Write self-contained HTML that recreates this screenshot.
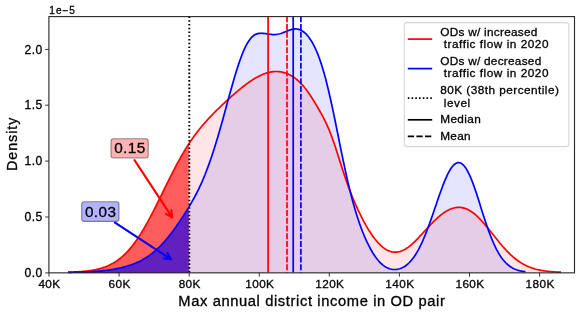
<!DOCTYPE html>
<html><head><meta charset="utf-8"><title>Density of max annual district income in OD pair</title>
<style>
html,body{margin:0;padding:0;background:#fff;}
body{width:581px;height:315px;overflow:hidden;}
svg{display:block;will-change:transform;}
text{font-family:"Liberation Sans",sans-serif;fill:#000;stroke:#000;stroke-width:0.3px;}
</style></head><body>
<svg width="581" height="315" viewBox="0 0 581 315">
<rect x="0" y="0" width="581" height="315" fill="#ffffff"/>
<path d="M68.0,272.19 L69.0,272.16 L70.0,272.13 L71.0,272.10 L72.0,272.06 L73.0,272.02 L74.0,271.98 L75.0,271.94 L76.0,271.89 L77.0,271.84 L78.0,271.78 L79.0,271.72 L80.0,271.65 L81.0,271.58 L82.0,271.50 L83.0,271.42 L84.0,271.33 L85.0,271.23 L86.0,271.13 L87.0,271.02 L88.0,270.90 L89.0,270.77 L90.0,270.63 L91.0,270.48 L92.0,270.32 L93.0,270.15 L94.0,269.97 L95.0,269.77 L96.0,269.57 L97.0,269.34 L98.0,269.11 L99.0,268.86 L100.0,268.59 L101.0,268.30 L102.0,268.00 L103.0,267.68 L104.0,267.34 L105.0,266.98 L106.0,266.59 L107.0,266.19 L108.0,265.76 L109.0,265.31 L110.0,264.83 L111.0,264.33 L112.0,263.79 L113.0,263.24 L114.0,262.65 L115.0,262.03 L116.0,261.38 L117.0,260.70 L118.0,259.99 L119.0,259.25 L120.0,258.47 L121.0,257.65 L122.0,256.80 L123.0,255.92 L124.0,255.00 L125.0,254.04 L126.0,253.04 L127.0,252.00 L128.0,250.93 L129.0,249.81 L130.0,248.66 L131.0,247.46 L132.0,246.23 L133.0,244.95 L134.0,243.64 L135.0,242.29 L136.0,240.90 L137.0,239.46 L138.0,237.99 L139.0,236.48 L140.0,234.94 L141.0,233.35 L142.0,231.73 L143.0,230.08 L144.0,228.39 L145.0,226.67 L146.0,224.91 L147.0,223.13 L148.0,221.32 L149.0,219.47 L150.0,217.61 L151.0,215.71 L152.0,213.80 L153.0,211.86 L154.0,209.90 L155.0,207.93 L156.0,205.94 L157.0,203.93 L158.0,201.92 L159.0,199.89 L160.0,197.86 L161.0,195.82 L162.0,193.77 L163.0,191.73 L164.0,189.69 L165.0,187.64 L166.0,185.61 L167.0,183.58 L168.0,181.55 L169.0,179.54 L170.0,177.54 L171.0,175.55 L172.0,173.58 L173.0,171.63 L174.0,169.69 L175.0,167.78 L176.0,165.88 L177.0,164.01 L178.0,162.17 L179.0,160.34 L180.0,158.54 L181.0,156.77 L182.0,155.03 L183.0,153.31 L184.0,151.63 L185.0,149.97 L186.0,148.34 L187.0,146.74 L188.0,145.17 L189.0,143.63 L190.0,142.11 L191.0,140.63 L192.0,139.17 L193.0,137.75 L194.0,136.35 L195.0,134.97 L196.0,133.63 L197.0,132.31 L198.0,131.01 L199.0,129.74 L200.0,128.49 L201.0,127.27 L202.0,126.06 L203.0,124.88 L204.0,123.71 L205.0,122.57 L206.0,121.44 L207.0,120.33 L208.0,119.24 L209.0,118.16 L210.0,117.10 L211.0,116.05 L212.0,115.01 L213.0,113.98 L214.0,112.96 L215.0,111.96 L216.0,110.96 L217.0,109.98 L218.0,109.00 L219.0,108.03 L220.0,107.06 L221.0,106.11 L222.0,105.16 L223.0,104.21 L224.0,103.28 L225.0,102.34 L226.0,101.42 L227.0,100.50 L228.0,99.59 L229.0,98.68 L230.0,97.78 L231.0,96.88 L232.0,95.99 L233.0,95.11 L234.0,94.23 L235.0,93.37 L236.0,92.51 L237.0,91.65 L238.0,90.81 L239.0,89.97 L240.0,89.15 L241.0,88.33 L242.0,87.53 L243.0,86.74 L244.0,85.96 L245.0,85.19 L246.0,84.43 L247.0,83.69 L248.0,82.96 L249.0,82.25 L250.0,81.56 L251.0,80.88 L252.0,80.21 L253.0,79.57 L254.0,78.95 L255.0,78.34 L256.0,77.76 L257.0,77.19 L258.0,76.65 L259.0,76.13 L260.0,75.63 L261.0,75.16 L262.0,74.72 L263.0,74.29 L264.0,73.90 L265.0,73.53 L266.0,73.19 L267.0,72.88 L268.0,72.60 L269.0,72.35 L270.0,72.13 L271.0,71.94 L272.0,71.79 L273.0,71.66 L274.0,71.57 L275.0,71.52 L276.0,71.50 L277.0,71.51 L278.0,71.56 L279.0,71.64 L280.0,71.76 L281.0,71.92 L282.0,72.11 L283.0,72.35 L284.0,72.62 L285.0,72.92 L286.0,73.27 L287.0,73.65 L288.0,74.07 L289.0,74.53 L290.0,75.04 L291.0,75.58 L292.0,76.16 L293.0,76.79 L294.0,77.46 L295.0,78.17 L296.0,78.94 L297.0,79.74 L298.0,80.60 L299.0,81.51 L300.0,82.46 L301.0,83.47 L302.0,84.53 L303.0,85.65 L304.0,86.82 L305.0,88.05 L306.0,89.33 L307.0,90.66 L308.0,92.05 L309.0,93.48 L310.0,94.96 L311.0,96.48 L312.0,98.04 L313.0,99.63 L314.0,101.26 L315.0,102.91 L316.0,104.58 L317.0,106.27 L318.0,107.99 L319.0,109.72 L320.0,111.48 L321.0,113.27 L322.0,115.09 L323.0,116.96 L324.0,118.88 L325.0,120.87 L326.0,122.93 L327.0,125.08 L328.0,127.33 L329.0,129.68 L330.0,132.13 L331.0,134.70 L332.0,137.38 L333.0,140.17 L334.0,143.05 L335.0,146.02 L336.0,149.06 L337.0,152.16 L338.0,155.29 L339.0,158.45 L340.0,161.62 L341.0,164.77 L342.0,167.90 L343.0,170.98 L344.0,174.02 L345.0,177.00 L346.0,179.92 L347.0,182.77 L348.0,185.54 L349.0,188.25 L350.0,190.89 L351.0,193.46 L352.0,195.97 L353.0,198.42 L354.0,200.80 L355.0,203.13 L356.0,205.40 L357.0,207.63 L358.0,209.80 L359.0,211.92 L360.0,213.99 L361.0,216.01 L362.0,217.99 L363.0,219.91 L364.0,221.79 L365.0,223.62 L366.0,225.40 L367.0,227.13 L368.0,228.81 L369.0,230.44 L370.0,232.01 L371.0,233.54 L372.0,235.00 L373.0,236.41 L374.0,237.77 L375.0,239.07 L376.0,240.31 L377.0,241.49 L378.0,242.62 L379.0,243.68 L380.0,244.69 L381.0,245.63 L382.0,246.51 L383.0,247.33 L384.0,248.09 L385.0,248.78 L386.0,249.41 L387.0,249.97 L388.0,250.47 L389.0,250.91 L390.0,251.28 L391.0,251.59 L392.0,251.83 L393.0,252.01 L394.0,252.12 L395.0,252.17 L396.0,252.15 L397.0,252.07 L398.0,251.93 L399.0,251.73 L400.0,251.47 L401.0,251.14 L402.0,250.76 L403.0,250.32 L404.0,249.83 L405.0,249.28 L406.0,248.68 L407.0,248.04 L408.0,247.34 L409.0,246.60 L410.0,245.81 L411.0,244.99 L412.0,244.13 L413.0,243.23 L414.0,242.30 L415.0,241.34 L416.0,240.35 L417.0,239.34 L418.0,238.31 L419.0,237.26 L420.0,236.19 L421.0,235.11 L422.0,234.03 L423.0,232.93 L424.0,231.84 L425.0,230.74 L426.0,229.64 L427.0,228.55 L428.0,227.46 L429.0,226.38 L430.0,225.32 L431.0,224.27 L432.0,223.23 L433.0,222.21 L434.0,221.21 L435.0,220.24 L436.0,219.29 L437.0,218.36 L438.0,217.46 L439.0,216.59 L440.0,215.75 L441.0,214.94 L442.0,214.16 L443.0,213.42 L444.0,212.72 L445.0,212.05 L446.0,211.43 L447.0,210.84 L448.0,210.29 L449.0,209.79 L450.0,209.33 L451.0,208.91 L452.0,208.55 L453.0,208.22 L454.0,207.95 L455.0,207.73 L456.0,207.55 L457.0,207.43 L458.0,207.36 L459.0,207.34 L460.0,207.38 L461.0,207.47 L462.0,207.61 L463.0,207.81 L464.0,208.06 L465.0,208.37 L466.0,208.73 L467.0,209.15 L468.0,209.62 L469.0,210.14 L470.0,210.71 L471.0,211.34 L472.0,212.02 L473.0,212.74 L474.0,213.52 L475.0,214.34 L476.0,215.20 L477.0,216.11 L478.0,217.06 L479.0,218.05 L480.0,219.07 L481.0,220.13 L482.0,221.22 L483.0,222.33 L484.0,223.48 L485.0,224.65 L486.0,225.84 L487.0,227.05 L488.0,228.27 L489.0,229.51 L490.0,230.75 L491.0,232.01 L492.0,233.26 L493.0,234.52 L494.0,235.78 L495.0,237.04 L496.0,238.29 L497.0,239.53 L498.0,240.76 L499.0,241.98 L500.0,243.19 L501.0,244.38 L502.0,245.55 L503.0,246.70 L504.0,247.82 L505.0,248.93 L506.0,250.01 L507.0,251.06 L508.0,252.09 L509.0,253.09 L510.0,254.06 L511.0,255.01 L512.0,255.92 L513.0,256.80 L514.0,257.65 L515.0,258.47 L516.0,259.26 L517.0,260.03 L518.0,260.75 L519.0,261.45 L520.0,262.12 L521.0,262.76 L522.0,263.37 L523.0,263.95 L524.0,264.51 L525.0,265.03 L526.0,265.53 L527.0,266.01 L528.0,266.45 L529.0,266.88 L530.0,267.28 L531.0,267.65 L532.0,268.01 L533.0,268.34 L534.0,268.65 L535.0,268.95 L536.0,269.22 L537.0,269.48 L538.0,269.72 L539.0,269.94 L540.0,270.15 L541.0,270.34 L542.0,270.52 L543.0,270.69 L544.0,270.84 L545.0,270.99 L546.0,271.12 L547.0,271.24 L548.0,271.35 L549.0,271.46 L550.0,271.55 L551.0,271.64 L552.0,271.72 L553.0,271.80 L554.0,271.86 L555.0,271.92 L556.0,271.98 L557.0,272.03 L558.0,272.08 L559.0,272.12 L560.0,272.16 L561.0,272.19 L561.0,272.9 L68.0,272.9 Z" fill="#ff0000" fill-opacity="0.1"/>
<path d="M68.0,272.32 L69.0,272.31 L70.0,272.29 L71.0,272.28 L72.0,272.26 L73.0,272.24 L74.0,272.22 L75.0,272.20 L76.0,272.18 L77.0,272.16 L78.0,272.13 L79.0,272.11 L80.0,272.08 L81.0,272.05 L82.0,272.02 L83.0,271.98 L84.0,271.95 L85.0,271.91 L86.0,271.87 L87.0,271.82 L88.0,271.78 L89.0,271.73 L90.0,271.68 L91.0,271.63 L92.0,271.57 L93.0,271.51 L94.0,271.45 L95.0,271.38 L96.0,271.31 L97.0,271.23 L98.0,271.15 L99.0,271.07 L100.0,270.98 L101.0,270.89 L102.0,270.80 L103.0,270.70 L104.0,270.59 L105.0,270.48 L106.0,270.36 L107.0,270.24 L108.0,270.11 L109.0,269.98 L110.0,269.83 L111.0,269.69 L112.0,269.53 L113.0,269.37 L113.9,269.20 L114.9,269.03 L115.9,268.84 L116.9,268.65 L117.9,268.45 L118.9,268.24 L119.9,268.02 L120.9,267.80 L121.9,267.56 L122.9,267.31 L123.9,267.06 L124.9,266.79 L125.9,266.51 L126.9,266.22 L127.9,265.92 L128.9,265.60 L129.9,265.28 L130.9,264.94 L131.9,264.58 L132.9,264.21 L133.9,263.83 L134.9,263.43 L135.9,263.02 L136.9,262.59 L137.9,262.14 L138.9,261.67 L139.9,261.19 L140.9,260.68 L141.9,260.16 L142.9,259.61 L143.9,259.04 L144.9,258.45 L145.9,257.84 L146.9,257.21 L147.9,256.55 L148.9,255.86 L149.9,255.15 L150.9,254.41 L151.9,253.65 L152.9,252.85 L153.9,252.03 L154.9,251.19 L155.9,250.31 L156.9,249.40 L157.9,248.47 L158.9,247.50 L159.9,246.51 L160.9,245.48 L161.9,244.43 L162.9,243.35 L163.9,242.24 L164.9,241.10 L165.9,239.94 L166.9,238.75 L167.9,237.53 L168.9,236.28 L169.9,235.02 L170.9,233.72 L171.9,232.41 L172.9,231.07 L173.9,229.71 L174.9,228.33 L175.9,226.93 L176.9,225.51 L177.9,224.07 L178.9,222.62 L179.9,221.14 L180.9,219.65 L181.9,218.14 L182.9,216.61 L183.9,215.06 L184.9,213.49 L185.9,211.90 L186.9,210.29 L187.9,208.65 L188.9,206.99 L189.9,205.31 L190.9,203.59 L191.9,201.85 L192.9,200.07 L193.9,198.25 L194.9,196.39 L195.9,194.50 L196.9,192.55 L197.9,190.56 L198.9,188.52 L199.9,186.42 L200.9,184.27 L201.9,182.05 L202.9,179.78 L203.9,177.43 L204.9,175.02 L205.8,172.53 L206.8,169.98 L207.8,167.35 L208.8,164.64 L209.8,161.86 L210.8,159.00 L211.8,156.07 L212.8,153.06 L213.8,149.98 L214.8,146.83 L215.8,143.60 L216.8,140.31 L217.8,136.96 L218.8,133.54 L219.8,130.08 L220.8,126.56 L221.8,123.00 L222.8,119.41 L223.8,115.78 L224.8,112.13 L225.8,108.47 L226.8,104.80 L227.8,101.13 L228.8,97.48 L229.8,93.84 L230.8,90.23 L231.8,86.67 L232.8,83.15 L233.8,79.69 L234.8,76.30 L235.8,72.99 L236.8,69.77 L237.8,66.64 L238.8,63.62 L239.8,60.71 L240.8,57.93 L241.8,55.28 L242.8,52.77 L243.8,50.40 L244.8,48.18 L245.8,46.12 L246.8,44.22 L247.8,42.49 L248.8,40.92 L249.8,39.51 L250.8,38.27 L251.8,37.19 L252.8,36.26 L253.8,35.47 L254.8,34.83 L255.8,34.31 L256.8,33.91 L257.8,33.61 L258.8,33.41 L259.8,33.29 L260.8,33.23 L261.8,33.24 L262.8,33.29 L263.8,33.38 L264.8,33.50 L265.8,33.64 L266.8,33.79 L267.8,33.95 L268.8,34.10 L269.8,34.24 L270.8,34.36 L271.8,34.46 L272.8,34.53 L273.8,34.56 L274.8,34.54 L275.8,34.48 L276.8,34.38 L277.8,34.22 L278.8,34.02 L279.8,33.77 L280.8,33.48 L281.8,33.15 L282.8,32.79 L283.8,32.40 L284.8,32.00 L285.8,31.58 L286.8,31.17 L287.8,30.77 L288.8,30.38 L289.8,30.03 L290.8,29.71 L291.8,29.43 L292.8,29.21 L293.8,29.05 L294.8,28.95 L295.8,28.94 L296.8,29.00 L297.7,29.14 L298.7,29.37 L299.7,29.69 L300.7,30.11 L301.7,30.62 L302.7,31.23 L303.7,31.94 L304.7,32.76 L305.7,33.68 L306.7,34.70 L307.7,35.84 L308.7,37.08 L309.7,38.44 L310.7,39.92 L311.7,41.52 L312.7,43.24 L313.7,45.10 L314.7,47.09 L315.7,49.22 L316.7,51.50 L317.7,53.92 L318.7,56.50 L319.7,59.24 L320.7,62.13 L321.7,65.20 L322.7,68.42 L323.7,71.82 L324.7,75.37 L325.7,79.09 L326.7,82.97 L327.7,87.00 L328.7,91.18 L329.7,95.50 L330.7,99.94 L331.7,104.50 L332.7,109.17 L333.7,113.92 L334.7,118.75 L335.7,123.64 L336.7,128.57 L337.7,133.53 L338.7,138.50 L339.7,143.46 L340.7,148.40 L341.7,153.30 L342.7,158.14 L343.7,162.92 L344.7,167.62 L345.7,172.22 L346.7,176.72 L347.7,181.11 L348.7,185.39 L349.7,189.54 L350.7,193.56 L351.7,197.45 L352.7,201.22 L353.7,204.85 L354.7,208.35 L355.7,211.72 L356.7,214.97 L357.7,218.09 L358.7,221.10 L359.7,223.99 L360.7,226.77 L361.7,229.45 L362.7,232.02 L363.7,234.49 L364.7,236.87 L365.7,239.15 L366.7,241.34 L367.7,243.45 L368.7,245.47 L369.7,247.40 L370.7,249.24 L371.7,251.00 L372.7,252.68 L373.7,254.27 L374.7,255.78 L375.7,257.21 L376.7,258.55 L377.7,259.81 L378.7,260.99 L379.7,262.08 L380.7,263.09 L381.7,264.02 L382.7,264.87 L383.7,265.65 L384.7,266.35 L385.7,266.97 L386.7,267.52 L387.7,268.00 L388.6,268.41 L389.6,268.76 L390.6,269.04 L391.6,269.25 L392.6,269.40 L393.6,269.49 L394.6,269.52 L395.6,269.49 L396.6,269.40 L397.6,269.25 L398.6,269.04 L399.6,268.77 L400.6,268.43 L401.6,268.03 L402.6,267.57 L403.6,267.03 L404.6,266.43 L405.6,265.75 L406.6,265.00 L407.6,264.17 L408.6,263.26 L409.6,262.27 L410.6,261.19 L411.6,260.03 L412.6,258.77 L413.6,257.43 L414.6,255.99 L415.6,254.46 L416.6,252.83 L417.6,251.11 L418.6,249.29 L419.6,247.37 L420.6,245.36 L421.6,243.26 L422.6,241.06 L423.6,238.78 L424.6,236.41 L425.6,233.96 L426.6,231.43 L427.6,228.83 L428.6,226.16 L429.6,223.42 L430.6,220.64 L431.6,217.80 L432.6,214.92 L433.6,212.02 L434.6,209.09 L435.6,206.15 L436.6,203.21 L437.6,200.29 L438.6,197.38 L439.6,194.52 L440.6,191.70 L441.6,188.94 L442.6,186.26 L443.6,183.67 L444.6,181.18 L445.6,178.80 L446.6,176.55 L447.6,174.43 L448.6,172.46 L449.6,170.65 L450.6,169.01 L451.6,167.54 L452.6,166.25 L453.6,165.15 L454.6,164.25 L455.6,163.54 L456.6,163.03 L457.6,162.72 L458.6,162.62 L459.6,162.74 L460.6,163.06 L461.6,163.59 L462.6,164.33 L463.6,165.29 L464.6,166.44 L465.6,167.81 L466.6,169.37 L467.6,171.12 L468.6,173.06 L469.6,175.17 L470.6,177.45 L471.6,179.88 L472.6,182.45 L473.6,185.15 L474.6,187.96 L475.6,190.86 L476.6,193.85 L477.6,196.90 L478.6,199.99 L479.6,203.12 L480.5,206.26 L481.5,209.41 L482.5,212.54 L483.5,215.65 L484.5,218.71 L485.5,221.73 L486.5,224.68 L487.5,227.57 L488.5,230.37 L489.5,233.09 L490.5,235.72 L491.5,238.24 L492.5,240.67 L493.5,242.99 L494.5,245.20 L495.5,247.30 L496.5,249.30 L497.5,251.18 L498.5,252.95 L499.5,254.62 L500.5,256.18 L501.5,257.64 L502.5,259.00 L503.5,260.26 L504.5,261.43 L505.5,262.51 L506.5,263.50 L507.5,264.41 L508.5,265.25 L509.5,266.02 L510.5,266.71 L511.5,267.35 L512.5,267.92 L513.5,268.44 L514.5,268.91 L515.5,269.33 L516.5,269.71 L517.5,270.05 L518.5,270.35 L519.5,270.62 L520.5,270.86 L521.5,271.07 L522.5,271.26 L523.5,271.42 L524.5,271.57 L525.5,271.70 L525.5,272.9 L68.0,272.9 Z" fill="#0000ff" fill-opacity="0.1"/>
<path d="M68.0,272.19 L68.5,272.18 L69.0,272.16 L69.5,272.15 L70.0,272.13 L70.5,272.11 L71.0,272.10 L71.5,272.08 L72.0,272.06 L72.5,272.04 L73.0,272.02 L73.5,272.00 L74.0,271.98 L74.5,271.96 L75.0,271.94 L75.5,271.91 L76.0,271.89 L76.5,271.86 L77.0,271.84 L77.5,271.81 L78.0,271.78 L78.5,271.75 L79.0,271.72 L79.5,271.68 L80.0,271.65 L80.5,271.61 L81.0,271.58 L81.5,271.54 L82.0,271.50 L82.5,271.46 L83.0,271.42 L83.5,271.37 L84.0,271.33 L84.5,271.28 L85.0,271.23 L85.5,271.18 L86.0,271.12 L86.5,271.07 L87.0,271.01 L87.5,270.95 L88.0,270.89 L88.5,270.83 L89.0,270.76 L89.5,270.69 L90.0,270.62 L90.5,270.55 L91.0,270.47 L91.5,270.39 L92.0,270.31 L92.5,270.23 L93.0,270.14 L93.5,270.05 L94.0,269.96 L94.5,269.86 L95.0,269.76 L95.5,269.66 L96.0,269.56 L96.5,269.45 L97.0,269.33 L97.5,269.22 L98.0,269.10 L98.6,268.97 L99.1,268.84 L99.6,268.71 L100.1,268.57 L100.6,268.43 L101.1,268.29 L101.6,268.14 L102.1,267.98 L102.6,267.82 L103.1,267.66 L103.6,267.49 L104.1,267.32 L104.6,267.14 L105.1,266.95 L105.6,266.76 L106.1,266.57 L106.6,266.37 L107.1,266.16 L107.6,265.95 L108.1,265.73 L108.6,265.51 L109.1,265.28 L109.6,265.04 L110.1,264.79 L110.6,264.54 L111.1,264.29 L111.6,264.02 L112.1,263.75 L112.6,263.48 L113.1,263.19 L113.6,262.90 L114.1,262.60 L114.6,262.30 L115.1,261.98 L115.6,261.66 L116.1,261.33 L116.6,260.99 L117.1,260.65 L117.6,260.29 L118.1,259.93 L118.6,259.56 L119.1,259.18 L119.6,258.79 L120.1,258.40 L120.6,257.99 L121.1,257.58 L121.6,257.16 L122.1,256.73 L122.6,256.28 L123.1,255.84 L123.6,255.38 L124.1,254.91 L124.6,254.43 L125.1,253.94 L125.6,253.45 L126.1,252.94 L126.6,252.42 L127.1,251.90 L127.6,251.36 L128.1,250.82 L128.6,250.26 L129.1,249.70 L129.6,249.12 L130.1,248.54 L130.6,247.94 L131.1,247.33 L131.6,246.72 L132.1,246.09 L132.6,245.46 L133.1,244.81 L133.6,244.16 L134.1,243.49 L134.6,242.82 L135.1,242.14 L135.6,241.44 L136.1,240.74 L136.6,240.02 L137.1,239.30 L137.6,238.56 L138.1,237.82 L138.6,237.07 L139.1,236.30 L139.6,235.53 L140.1,234.75 L140.6,233.96 L141.1,233.16 L141.6,232.35 L142.1,231.53 L142.6,230.71 L143.1,229.87 L143.6,229.03 L144.1,228.18 L144.6,227.31 L145.1,226.45 L145.6,225.57 L146.1,224.69 L146.6,223.79 L147.1,222.89 L147.6,221.99 L148.1,221.07 L148.6,220.15 L149.1,219.22 L149.6,218.29 L150.1,217.35 L150.6,216.40 L151.1,215.45 L151.6,214.49 L152.1,213.53 L152.6,212.56 L153.1,211.58 L153.6,210.60 L154.1,209.62 L154.6,208.63 L155.1,207.64 L155.6,206.64 L156.1,205.64 L156.6,204.64 L157.1,203.63 L157.6,202.63 L158.1,201.61 L158.7,200.60 L159.2,199.58 L159.7,198.57 L160.2,197.55 L160.7,196.52 L161.2,195.50 L161.7,194.48 L162.2,193.46 L162.7,192.43 L163.2,191.41 L163.7,190.38 L164.2,189.36 L164.7,188.34 L165.2,187.32 L165.7,186.29 L166.2,185.28 L166.7,184.26 L167.2,183.24 L167.7,182.23 L168.2,181.22 L168.7,180.21 L169.2,179.20 L169.7,178.20 L170.2,177.20 L170.7,176.21 L171.2,175.22 L171.7,174.23 L172.2,173.24 L172.7,172.27 L173.2,171.29 L173.7,170.32 L174.2,169.36 L174.7,168.40 L175.2,167.44 L175.7,166.49 L176.2,165.55 L176.7,164.61 L177.2,163.68 L177.7,162.75 L178.2,161.83 L178.7,160.92 L179.2,160.01 L179.7,159.11 L180.2,158.21 L180.7,157.33 L181.2,156.45 L181.7,155.57 L182.2,154.70 L182.7,153.84 L183.2,152.99 L183.7,152.14 L184.2,151.31 L184.7,150.47 L185.2,149.65 L185.7,148.83 L186.2,148.02 L186.7,147.22 L187.2,146.43 L187.7,145.64 L188.2,144.86 L188.7,144.08 L188.7,272.9 L68.0,272.9 Z" fill="#ff0000" fill-opacity="0.6"/>
<path d="M68.0,272.32 L68.5,272.32 L69.0,272.31 L69.5,272.30 L70.0,272.29 L70.5,272.29 L71.0,272.28 L71.5,272.27 L72.0,272.26 L72.5,272.25 L73.0,272.24 L73.5,272.23 L74.0,272.22 L74.5,272.21 L75.0,272.20 L75.5,272.19 L76.0,272.18 L76.5,272.17 L77.0,272.16 L77.5,272.15 L78.0,272.13 L78.5,272.12 L79.0,272.11 L79.5,272.09 L80.0,272.08 L80.5,272.06 L81.0,272.05 L81.5,272.03 L82.0,272.02 L82.5,272.00 L83.0,271.98 L83.5,271.96 L84.0,271.94 L84.5,271.93 L85.0,271.91 L85.5,271.89 L86.0,271.87 L86.5,271.84 L87.0,271.82 L87.5,271.80 L88.0,271.78 L88.5,271.75 L89.0,271.73 L89.5,271.70 L90.0,271.68 L90.5,271.65 L91.0,271.62 L91.5,271.59 L92.0,271.57 L92.5,271.54 L93.0,271.50 L93.5,271.47 L94.0,271.44 L94.5,271.41 L95.0,271.37 L95.5,271.34 L96.0,271.30 L96.5,271.26 L97.0,271.23 L97.5,271.19 L98.0,271.15 L98.6,271.11 L99.1,271.06 L99.6,271.02 L100.1,270.98 L100.6,270.93 L101.1,270.88 L101.6,270.84 L102.1,270.79 L102.6,270.74 L103.1,270.69 L103.6,270.63 L104.1,270.58 L104.6,270.52 L105.1,270.47 L105.6,270.41 L106.1,270.35 L106.6,270.29 L107.1,270.22 L107.6,270.16 L108.1,270.10 L108.6,270.03 L109.1,269.96 L109.6,269.89 L110.1,269.82 L110.6,269.74 L111.1,269.67 L111.6,269.59 L112.1,269.51 L112.6,269.43 L113.1,269.35 L113.6,269.27 L114.1,269.18 L114.6,269.09 L115.1,269.00 L115.6,268.91 L116.1,268.82 L116.6,268.72 L117.1,268.62 L117.6,268.52 L118.1,268.42 L118.6,268.32 L119.1,268.21 L119.6,268.10 L120.1,267.99 L120.6,267.88 L121.1,267.76 L121.6,267.64 L122.1,267.52 L122.6,267.40 L123.1,267.27 L123.6,267.15 L124.1,267.02 L124.6,266.88 L125.1,266.75 L125.6,266.61 L126.1,266.46 L126.6,266.32 L127.1,266.17 L127.6,266.02 L128.1,265.87 L128.6,265.71 L129.1,265.55 L129.6,265.39 L130.1,265.22 L130.6,265.05 L131.1,264.88 L131.6,264.70 L132.1,264.52 L132.6,264.33 L133.1,264.15 L133.6,263.95 L134.1,263.76 L134.6,263.56 L135.1,263.36 L135.6,263.15 L136.1,262.94 L136.6,262.72 L137.1,262.50 L137.6,262.28 L138.1,262.05 L138.6,261.82 L139.1,261.58 L139.6,261.33 L140.1,261.09 L140.6,260.83 L141.1,260.58 L141.6,260.31 L142.1,260.05 L142.6,259.77 L143.1,259.50 L143.6,259.21 L144.1,258.92 L144.6,258.63 L145.1,258.33 L145.6,258.02 L146.1,257.71 L146.6,257.39 L147.1,257.06 L147.6,256.73 L148.1,256.40 L148.6,256.05 L149.1,255.70 L149.6,255.35 L150.1,254.98 L150.6,254.61 L151.1,254.24 L151.6,253.86 L152.1,253.47 L152.6,253.07 L153.1,252.66 L153.6,252.25 L154.1,251.84 L154.6,251.41 L155.1,250.98 L155.6,250.54 L156.1,250.09 L156.6,249.64 L157.1,249.18 L157.6,248.71 L158.1,248.23 L158.7,247.75 L159.2,247.26 L159.7,246.76 L160.2,246.25 L160.7,245.74 L161.2,245.22 L161.7,244.69 L162.2,244.16 L162.7,243.61 L163.2,243.06 L163.7,242.51 L164.2,241.94 L164.7,241.37 L165.2,240.80 L165.7,240.21 L166.2,239.62 L166.7,239.02 L167.2,238.42 L167.7,237.81 L168.2,237.19 L168.7,236.56 L169.2,235.93 L169.7,235.30 L170.2,234.66 L170.7,234.01 L171.2,233.35 L171.7,232.69 L172.2,232.03 L172.7,231.36 L173.2,230.68 L173.7,230.00 L174.2,229.31 L174.7,228.62 L175.2,227.92 L175.7,227.22 L176.2,226.51 L176.7,225.80 L177.2,225.08 L177.7,224.36 L178.2,223.63 L178.7,222.90 L179.2,222.17 L179.7,221.43 L180.2,220.68 L180.7,219.93 L181.2,219.18 L181.7,218.42 L182.2,217.66 L182.7,216.89 L183.2,216.12 L183.7,215.34 L184.2,214.56 L184.7,213.77 L185.2,212.98 L185.7,212.18 L186.2,211.38 L186.7,210.57 L187.2,209.75 L187.7,208.93 L188.2,208.11 L188.7,207.27 L188.7,272.9 L68.0,272.9 Z" fill="#0000ff" fill-opacity="0.6"/>
<path d="M68.0,272.19 L69.0,272.16 L70.0,272.13 L71.0,272.10 L72.0,272.06 L73.0,272.02 L74.0,271.98 L75.0,271.94 L76.0,271.89 L77.0,271.84 L78.0,271.78 L79.0,271.72 L80.0,271.65 L81.0,271.58 L82.0,271.50 L83.0,271.42 L84.0,271.33 L85.0,271.23 L86.0,271.13 L87.0,271.02 L88.0,270.90 L89.0,270.77 L90.0,270.63 L91.0,270.48 L92.0,270.32 L93.0,270.15 L94.0,269.97 L95.0,269.77 L96.0,269.57 L97.0,269.34 L98.0,269.11 L99.0,268.86 L100.0,268.59 L101.0,268.30 L102.0,268.00 L103.0,267.68 L104.0,267.34 L105.0,266.98 L106.0,266.59 L107.0,266.19 L108.0,265.76 L109.0,265.31 L110.0,264.83 L111.0,264.33 L112.0,263.79 L113.0,263.24 L114.0,262.65 L115.0,262.03 L116.0,261.38 L117.0,260.70 L118.0,259.99 L119.0,259.25 L120.0,258.47 L121.0,257.65 L122.0,256.80 L123.0,255.92 L124.0,255.00 L125.0,254.04 L126.0,253.04 L127.0,252.00 L128.0,250.93 L129.0,249.81 L130.0,248.66 L131.0,247.46 L132.0,246.23 L133.0,244.95 L134.0,243.64 L135.0,242.29 L136.0,240.90 L137.0,239.46 L138.0,237.99 L139.0,236.48 L140.0,234.94 L141.0,233.35 L142.0,231.73 L143.0,230.08 L144.0,228.39 L145.0,226.67 L146.0,224.91 L147.0,223.13 L148.0,221.32 L149.0,219.47 L150.0,217.61 L151.0,215.71 L152.0,213.80 L153.0,211.86 L154.0,209.90 L155.0,207.93 L156.0,205.94 L157.0,203.93 L158.0,201.92 L159.0,199.89 L160.0,197.86 L161.0,195.82 L162.0,193.77 L163.0,191.73 L164.0,189.69 L165.0,187.64 L166.0,185.61 L167.0,183.58 L168.0,181.55 L169.0,179.54 L170.0,177.54 L171.0,175.55 L172.0,173.58 L173.0,171.63 L174.0,169.69 L175.0,167.78 L176.0,165.88 L177.0,164.01 L178.0,162.17 L179.0,160.34 L180.0,158.54 L181.0,156.77 L182.0,155.03 L183.0,153.31 L184.0,151.63 L185.0,149.97 L186.0,148.34 L187.0,146.74 L188.0,145.17 L189.0,143.63 L190.0,142.11 L191.0,140.63 L192.0,139.17 L193.0,137.75 L194.0,136.35 L195.0,134.97 L196.0,133.63 L197.0,132.31 L198.0,131.01 L199.0,129.74 L200.0,128.49 L201.0,127.27 L202.0,126.06 L203.0,124.88 L204.0,123.71 L205.0,122.57 L206.0,121.44 L207.0,120.33 L208.0,119.24 L209.0,118.16 L210.0,117.10 L211.0,116.05 L212.0,115.01 L213.0,113.98 L214.0,112.96 L215.0,111.96 L216.0,110.96 L217.0,109.98 L218.0,109.00 L219.0,108.03 L220.0,107.06 L221.0,106.11 L222.0,105.16 L223.0,104.21 L224.0,103.28 L225.0,102.34 L226.0,101.42 L227.0,100.50 L228.0,99.59 L229.0,98.68 L230.0,97.78 L231.0,96.88 L232.0,95.99 L233.0,95.11 L234.0,94.23 L235.0,93.37 L236.0,92.51 L237.0,91.65 L238.0,90.81 L239.0,89.97 L240.0,89.15 L241.0,88.33 L242.0,87.53 L243.0,86.74 L244.0,85.96 L245.0,85.19 L246.0,84.43 L247.0,83.69 L248.0,82.96 L249.0,82.25 L250.0,81.56 L251.0,80.88 L252.0,80.21 L253.0,79.57 L254.0,78.95 L255.0,78.34 L256.0,77.76 L257.0,77.19 L258.0,76.65 L259.0,76.13 L260.0,75.63 L261.0,75.16 L262.0,74.72 L263.0,74.29 L264.0,73.90 L265.0,73.53 L266.0,73.19 L267.0,72.88 L268.0,72.60 L269.0,72.35 L270.0,72.13 L271.0,71.94 L272.0,71.79 L273.0,71.66 L274.0,71.57 L275.0,71.52 L276.0,71.50 L277.0,71.51 L278.0,71.56 L279.0,71.64 L280.0,71.76 L281.0,71.92 L282.0,72.11 L283.0,72.35 L284.0,72.62 L285.0,72.92 L286.0,73.27 L287.0,73.65 L288.0,74.07 L289.0,74.53 L290.0,75.04 L291.0,75.58 L292.0,76.16 L293.0,76.79 L294.0,77.46 L295.0,78.17 L296.0,78.94 L297.0,79.74 L298.0,80.60 L299.0,81.51 L300.0,82.46 L301.0,83.47 L302.0,84.53 L303.0,85.65 L304.0,86.82 L305.0,88.05 L306.0,89.33 L307.0,90.66 L308.0,92.05 L309.0,93.48 L310.0,94.96 L311.0,96.48 L312.0,98.04 L313.0,99.63 L314.0,101.26 L315.0,102.91 L316.0,104.58 L317.0,106.27 L318.0,107.99 L319.0,109.72 L320.0,111.48 L321.0,113.27 L322.0,115.09 L323.0,116.96 L324.0,118.88 L325.0,120.87 L326.0,122.93 L327.0,125.08 L328.0,127.33 L329.0,129.68 L330.0,132.13 L331.0,134.70 L332.0,137.38 L333.0,140.17 L334.0,143.05 L335.0,146.02 L336.0,149.06 L337.0,152.16 L338.0,155.29 L339.0,158.45 L340.0,161.62 L341.0,164.77 L342.0,167.90 L343.0,170.98 L344.0,174.02 L345.0,177.00 L346.0,179.92 L347.0,182.77 L348.0,185.54 L349.0,188.25 L350.0,190.89 L351.0,193.46 L352.0,195.97 L353.0,198.42 L354.0,200.80 L355.0,203.13 L356.0,205.40 L357.0,207.63 L358.0,209.80 L359.0,211.92 L360.0,213.99 L361.0,216.01 L362.0,217.99 L363.0,219.91 L364.0,221.79 L365.0,223.62 L366.0,225.40 L367.0,227.13 L368.0,228.81 L369.0,230.44 L370.0,232.01 L371.0,233.54 L372.0,235.00 L373.0,236.41 L374.0,237.77 L375.0,239.07 L376.0,240.31 L377.0,241.49 L378.0,242.62 L379.0,243.68 L380.0,244.69 L381.0,245.63 L382.0,246.51 L383.0,247.33 L384.0,248.09 L385.0,248.78 L386.0,249.41 L387.0,249.97 L388.0,250.47 L389.0,250.91 L390.0,251.28 L391.0,251.59 L392.0,251.83 L393.0,252.01 L394.0,252.12 L395.0,252.17 L396.0,252.15 L397.0,252.07 L398.0,251.93 L399.0,251.73 L400.0,251.47 L401.0,251.14 L402.0,250.76 L403.0,250.32 L404.0,249.83 L405.0,249.28 L406.0,248.68 L407.0,248.04 L408.0,247.34 L409.0,246.60 L410.0,245.81 L411.0,244.99 L412.0,244.13 L413.0,243.23 L414.0,242.30 L415.0,241.34 L416.0,240.35 L417.0,239.34 L418.0,238.31 L419.0,237.26 L420.0,236.19 L421.0,235.11 L422.0,234.03 L423.0,232.93 L424.0,231.84 L425.0,230.74 L426.0,229.64 L427.0,228.55 L428.0,227.46 L429.0,226.38 L430.0,225.32 L431.0,224.27 L432.0,223.23 L433.0,222.21 L434.0,221.21 L435.0,220.24 L436.0,219.29 L437.0,218.36 L438.0,217.46 L439.0,216.59 L440.0,215.75 L441.0,214.94 L442.0,214.16 L443.0,213.42 L444.0,212.72 L445.0,212.05 L446.0,211.43 L447.0,210.84 L448.0,210.29 L449.0,209.79 L450.0,209.33 L451.0,208.91 L452.0,208.55 L453.0,208.22 L454.0,207.95 L455.0,207.73 L456.0,207.55 L457.0,207.43 L458.0,207.36 L459.0,207.34 L460.0,207.38 L461.0,207.47 L462.0,207.61 L463.0,207.81 L464.0,208.06 L465.0,208.37 L466.0,208.73 L467.0,209.15 L468.0,209.62 L469.0,210.14 L470.0,210.71 L471.0,211.34 L472.0,212.02 L473.0,212.74 L474.0,213.52 L475.0,214.34 L476.0,215.20 L477.0,216.11 L478.0,217.06 L479.0,218.05 L480.0,219.07 L481.0,220.13 L482.0,221.22 L483.0,222.33 L484.0,223.48 L485.0,224.65 L486.0,225.84 L487.0,227.05 L488.0,228.27 L489.0,229.51 L490.0,230.75 L491.0,232.01 L492.0,233.26 L493.0,234.52 L494.0,235.78 L495.0,237.04 L496.0,238.29 L497.0,239.53 L498.0,240.76 L499.0,241.98 L500.0,243.19 L501.0,244.38 L502.0,245.55 L503.0,246.70 L504.0,247.82 L505.0,248.93 L506.0,250.01 L507.0,251.06 L508.0,252.09 L509.0,253.09 L510.0,254.06 L511.0,255.01 L512.0,255.92 L513.0,256.80 L514.0,257.65 L515.0,258.47 L516.0,259.26 L517.0,260.03 L518.0,260.75 L519.0,261.45 L520.0,262.12 L521.0,262.76 L522.0,263.37 L523.0,263.95 L524.0,264.51 L525.0,265.03 L526.0,265.53 L527.0,266.01 L528.0,266.45 L529.0,266.88 L530.0,267.28 L531.0,267.65 L532.0,268.01 L533.0,268.34 L534.0,268.65 L535.0,268.95 L536.0,269.22 L537.0,269.48 L538.0,269.72 L539.0,269.94 L540.0,270.15 L541.0,270.34 L542.0,270.52 L543.0,270.69 L544.0,270.84 L545.0,270.99 L546.0,271.12 L547.0,271.24 L548.0,271.35 L549.0,271.46 L550.0,271.55 L551.0,271.64 L552.0,271.72 L553.0,271.80 L554.0,271.86 L555.0,271.92 L556.0,271.98 L557.0,272.03 L558.0,272.08 L559.0,272.12 L560.0,272.16 L561.0,272.19" fill="none" stroke="#ff0000" stroke-width="1.7" stroke-linejoin="round"/>
<path d="M68.0,272.32 L69.0,272.31 L70.0,272.29 L71.0,272.28 L72.0,272.26 L73.0,272.24 L74.0,272.22 L75.0,272.20 L76.0,272.18 L77.0,272.16 L78.0,272.13 L79.0,272.11 L80.0,272.08 L81.0,272.05 L82.0,272.02 L83.0,271.98 L84.0,271.95 L85.0,271.91 L86.0,271.87 L87.0,271.82 L88.0,271.78 L89.0,271.73 L90.0,271.68 L91.0,271.63 L92.0,271.57 L93.0,271.51 L94.0,271.45 L95.0,271.38 L96.0,271.31 L97.0,271.23 L98.0,271.15 L99.0,271.07 L100.0,270.98 L101.0,270.89 L102.0,270.80 L103.0,270.70 L104.0,270.59 L105.0,270.48 L106.0,270.36 L107.0,270.24 L108.0,270.11 L109.0,269.98 L110.0,269.83 L111.0,269.69 L112.0,269.53 L113.0,269.37 L113.9,269.20 L114.9,269.03 L115.9,268.84 L116.9,268.65 L117.9,268.45 L118.9,268.24 L119.9,268.02 L120.9,267.80 L121.9,267.56 L122.9,267.31 L123.9,267.06 L124.9,266.79 L125.9,266.51 L126.9,266.22 L127.9,265.92 L128.9,265.60 L129.9,265.28 L130.9,264.94 L131.9,264.58 L132.9,264.21 L133.9,263.83 L134.9,263.43 L135.9,263.02 L136.9,262.59 L137.9,262.14 L138.9,261.67 L139.9,261.19 L140.9,260.68 L141.9,260.16 L142.9,259.61 L143.9,259.04 L144.9,258.45 L145.9,257.84 L146.9,257.21 L147.9,256.55 L148.9,255.86 L149.9,255.15 L150.9,254.41 L151.9,253.65 L152.9,252.85 L153.9,252.03 L154.9,251.19 L155.9,250.31 L156.9,249.40 L157.9,248.47 L158.9,247.50 L159.9,246.51 L160.9,245.48 L161.9,244.43 L162.9,243.35 L163.9,242.24 L164.9,241.10 L165.9,239.94 L166.9,238.75 L167.9,237.53 L168.9,236.28 L169.9,235.02 L170.9,233.72 L171.9,232.41 L172.9,231.07 L173.9,229.71 L174.9,228.33 L175.9,226.93 L176.9,225.51 L177.9,224.07 L178.9,222.62 L179.9,221.14 L180.9,219.65 L181.9,218.14 L182.9,216.61 L183.9,215.06 L184.9,213.49 L185.9,211.90 L186.9,210.29 L187.9,208.65 L188.9,206.99 L189.9,205.31 L190.9,203.59 L191.9,201.85 L192.9,200.07 L193.9,198.25 L194.9,196.39 L195.9,194.50 L196.9,192.55 L197.9,190.56 L198.9,188.52 L199.9,186.42 L200.9,184.27 L201.9,182.05 L202.9,179.78 L203.9,177.43 L204.9,175.02 L205.8,172.53 L206.8,169.98 L207.8,167.35 L208.8,164.64 L209.8,161.86 L210.8,159.00 L211.8,156.07 L212.8,153.06 L213.8,149.98 L214.8,146.83 L215.8,143.60 L216.8,140.31 L217.8,136.96 L218.8,133.54 L219.8,130.08 L220.8,126.56 L221.8,123.00 L222.8,119.41 L223.8,115.78 L224.8,112.13 L225.8,108.47 L226.8,104.80 L227.8,101.13 L228.8,97.48 L229.8,93.84 L230.8,90.23 L231.8,86.67 L232.8,83.15 L233.8,79.69 L234.8,76.30 L235.8,72.99 L236.8,69.77 L237.8,66.64 L238.8,63.62 L239.8,60.71 L240.8,57.93 L241.8,55.28 L242.8,52.77 L243.8,50.40 L244.8,48.18 L245.8,46.12 L246.8,44.22 L247.8,42.49 L248.8,40.92 L249.8,39.51 L250.8,38.27 L251.8,37.19 L252.8,36.26 L253.8,35.47 L254.8,34.83 L255.8,34.31 L256.8,33.91 L257.8,33.61 L258.8,33.41 L259.8,33.29 L260.8,33.23 L261.8,33.24 L262.8,33.29 L263.8,33.38 L264.8,33.50 L265.8,33.64 L266.8,33.79 L267.8,33.95 L268.8,34.10 L269.8,34.24 L270.8,34.36 L271.8,34.46 L272.8,34.53 L273.8,34.56 L274.8,34.54 L275.8,34.48 L276.8,34.38 L277.8,34.22 L278.8,34.02 L279.8,33.77 L280.8,33.48 L281.8,33.15 L282.8,32.79 L283.8,32.40 L284.8,32.00 L285.8,31.58 L286.8,31.17 L287.8,30.77 L288.8,30.38 L289.8,30.03 L290.8,29.71 L291.8,29.43 L292.8,29.21 L293.8,29.05 L294.8,28.95 L295.8,28.94 L296.8,29.00 L297.7,29.14 L298.7,29.37 L299.7,29.69 L300.7,30.11 L301.7,30.62 L302.7,31.23 L303.7,31.94 L304.7,32.76 L305.7,33.68 L306.7,34.70 L307.7,35.84 L308.7,37.08 L309.7,38.44 L310.7,39.92 L311.7,41.52 L312.7,43.24 L313.7,45.10 L314.7,47.09 L315.7,49.22 L316.7,51.50 L317.7,53.92 L318.7,56.50 L319.7,59.24 L320.7,62.13 L321.7,65.20 L322.7,68.42 L323.7,71.82 L324.7,75.37 L325.7,79.09 L326.7,82.97 L327.7,87.00 L328.7,91.18 L329.7,95.50 L330.7,99.94 L331.7,104.50 L332.7,109.17 L333.7,113.92 L334.7,118.75 L335.7,123.64 L336.7,128.57 L337.7,133.53 L338.7,138.50 L339.7,143.46 L340.7,148.40 L341.7,153.30 L342.7,158.14 L343.7,162.92 L344.7,167.62 L345.7,172.22 L346.7,176.72 L347.7,181.11 L348.7,185.39 L349.7,189.54 L350.7,193.56 L351.7,197.45 L352.7,201.22 L353.7,204.85 L354.7,208.35 L355.7,211.72 L356.7,214.97 L357.7,218.09 L358.7,221.10 L359.7,223.99 L360.7,226.77 L361.7,229.45 L362.7,232.02 L363.7,234.49 L364.7,236.87 L365.7,239.15 L366.7,241.34 L367.7,243.45 L368.7,245.47 L369.7,247.40 L370.7,249.24 L371.7,251.00 L372.7,252.68 L373.7,254.27 L374.7,255.78 L375.7,257.21 L376.7,258.55 L377.7,259.81 L378.7,260.99 L379.7,262.08 L380.7,263.09 L381.7,264.02 L382.7,264.87 L383.7,265.65 L384.7,266.35 L385.7,266.97 L386.7,267.52 L387.7,268.00 L388.6,268.41 L389.6,268.76 L390.6,269.04 L391.6,269.25 L392.6,269.40 L393.6,269.49 L394.6,269.52 L395.6,269.49 L396.6,269.40 L397.6,269.25 L398.6,269.04 L399.6,268.77 L400.6,268.43 L401.6,268.03 L402.6,267.57 L403.6,267.03 L404.6,266.43 L405.6,265.75 L406.6,265.00 L407.6,264.17 L408.6,263.26 L409.6,262.27 L410.6,261.19 L411.6,260.03 L412.6,258.77 L413.6,257.43 L414.6,255.99 L415.6,254.46 L416.6,252.83 L417.6,251.11 L418.6,249.29 L419.6,247.37 L420.6,245.36 L421.6,243.26 L422.6,241.06 L423.6,238.78 L424.6,236.41 L425.6,233.96 L426.6,231.43 L427.6,228.83 L428.6,226.16 L429.6,223.42 L430.6,220.64 L431.6,217.80 L432.6,214.92 L433.6,212.02 L434.6,209.09 L435.6,206.15 L436.6,203.21 L437.6,200.29 L438.6,197.38 L439.6,194.52 L440.6,191.70 L441.6,188.94 L442.6,186.26 L443.6,183.67 L444.6,181.18 L445.6,178.80 L446.6,176.55 L447.6,174.43 L448.6,172.46 L449.6,170.65 L450.6,169.01 L451.6,167.54 L452.6,166.25 L453.6,165.15 L454.6,164.25 L455.6,163.54 L456.6,163.03 L457.6,162.72 L458.6,162.62 L459.6,162.74 L460.6,163.06 L461.6,163.59 L462.6,164.33 L463.6,165.29 L464.6,166.44 L465.6,167.81 L466.6,169.37 L467.6,171.12 L468.6,173.06 L469.6,175.17 L470.6,177.45 L471.6,179.88 L472.6,182.45 L473.6,185.15 L474.6,187.96 L475.6,190.86 L476.6,193.85 L477.6,196.90 L478.6,199.99 L479.6,203.12 L480.5,206.26 L481.5,209.41 L482.5,212.54 L483.5,215.65 L484.5,218.71 L485.5,221.73 L486.5,224.68 L487.5,227.57 L488.5,230.37 L489.5,233.09 L490.5,235.72 L491.5,238.24 L492.5,240.67 L493.5,242.99 L494.5,245.20 L495.5,247.30 L496.5,249.30 L497.5,251.18 L498.5,252.95 L499.5,254.62 L500.5,256.18 L501.5,257.64 L502.5,259.00 L503.5,260.26 L504.5,261.43 L505.5,262.51 L506.5,263.50 L507.5,264.41 L508.5,265.25 L509.5,266.02 L510.5,266.71 L511.5,267.35 L512.5,267.92 L513.5,268.44 L514.5,268.91 L515.5,269.33 L516.5,269.71 L517.5,270.05 L518.5,270.35 L519.5,270.62 L520.5,270.86 L521.5,271.07 L522.5,271.26 L523.5,271.42 L524.5,271.57 L525.5,271.70" fill="none" stroke="#0000ff" stroke-width="1.7" stroke-linejoin="round"/>
<line x1="189.3" y1="16.5" x2="189.3" y2="272.5" stroke="#000" stroke-width="1.9" stroke-dasharray="1.6 2.14"/>
<line x1="268.1" y1="16.5" x2="268.1" y2="272.5" stroke="#ff0000" stroke-width="1.7"/>
<line x1="287" y1="16.5" x2="287" y2="272.5" stroke="#ff0000" stroke-width="1.7" stroke-dasharray="5.95 1.8" stroke-dashoffset="0.3"/>
<line x1="293.2" y1="16.5" x2="293.2" y2="272.5" stroke="#0000ff" stroke-width="1.7"/>
<line x1="300.9" y1="16.5" x2="300.9" y2="272.5" stroke="#0000ff" stroke-width="1.7" stroke-dasharray="5.95 1.8" stroke-dashoffset="0.3"/>
<rect x="48.9" y="16.6" width="525.6" height="256.25" fill="none" stroke="#262626" stroke-width="1.1"/>
<line x1="49.0" y1="272.85" x2="49.0" y2="276.6" stroke="#333" stroke-width="1.0"/>
<text x="49.3" y="288.15" font-size="11.8" text-anchor="middle" textLength="21.7" lengthAdjust="spacing">40K</text>
<line x1="119.1" y1="272.85" x2="119.1" y2="276.6" stroke="#333" stroke-width="1.0"/>
<text x="119.4" y="288.15" font-size="11.8" text-anchor="middle" textLength="21.7" lengthAdjust="spacing">60K</text>
<line x1="189.2" y1="272.85" x2="189.2" y2="276.6" stroke="#333" stroke-width="1.0"/>
<text x="189.5" y="288.15" font-size="11.8" text-anchor="middle" textLength="21.7" lengthAdjust="spacing">80K</text>
<line x1="259.3" y1="272.85" x2="259.3" y2="276.6" stroke="#333" stroke-width="1.0"/>
<text x="259.6" y="288.15" font-size="11.8" text-anchor="middle" textLength="28.7" lengthAdjust="spacing">100K</text>
<line x1="329.3" y1="272.85" x2="329.3" y2="276.6" stroke="#333" stroke-width="1.0"/>
<text x="329.6" y="288.15" font-size="11.8" text-anchor="middle" textLength="28.7" lengthAdjust="spacing">120K</text>
<line x1="399.4" y1="272.85" x2="399.4" y2="276.6" stroke="#333" stroke-width="1.0"/>
<text x="399.7" y="288.15" font-size="11.8" text-anchor="middle" textLength="28.7" lengthAdjust="spacing">140K</text>
<line x1="469.5" y1="272.85" x2="469.5" y2="276.6" stroke="#333" stroke-width="1.0"/>
<text x="469.8" y="288.15" font-size="11.8" text-anchor="middle" textLength="28.7" lengthAdjust="spacing">160K</text>
<line x1="539.6" y1="272.85" x2="539.6" y2="276.6" stroke="#333" stroke-width="1.0"/>
<text x="539.9" y="288.15" font-size="11.8" text-anchor="middle" textLength="28.7" lengthAdjust="spacing">180K</text>
<line x1="45.2" y1="272.9" x2="48.9" y2="272.9" stroke="#333" stroke-width="1.0"/>
<text x="42.3" y="277.0" font-size="12.1" text-anchor="end" textLength="17.8" lengthAdjust="spacing">0.0</text>
<line x1="45.2" y1="217.0" x2="48.9" y2="217.0" stroke="#333" stroke-width="1.0"/>
<text x="42.3" y="221.1" font-size="12.1" text-anchor="end" textLength="17.8" lengthAdjust="spacing">0.5</text>
<line x1="45.2" y1="161.1" x2="48.9" y2="161.1" stroke="#333" stroke-width="1.0"/>
<text x="42.3" y="165.3" font-size="12.1" text-anchor="end" textLength="17.8" lengthAdjust="spacing">1.0</text>
<line x1="45.2" y1="105.2" x2="48.9" y2="105.2" stroke="#333" stroke-width="1.0"/>
<text x="42.3" y="109.4" font-size="12.1" text-anchor="end" textLength="17.8" lengthAdjust="spacing">1.5</text>
<line x1="45.2" y1="49.4" x2="48.9" y2="49.4" stroke="#333" stroke-width="1.0"/>
<text x="42.3" y="53.5" font-size="12.1" text-anchor="end" textLength="17.8" lengthAdjust="spacing">2.0</text>
<text x="49.3" y="13.75" font-size="10.05" textLength="25.6" lengthAdjust="spacing">1e−5</text>
<text x="311.6" y="305.5" font-size="14.7" text-anchor="middle" textLength="266.6" lengthAdjust="spacing">Max annual district income in OD pair</text>
<text transform="translate(17.0,144.3) rotate(-90)" font-size="14.3" text-anchor="middle" textLength="53.2" lengthAdjust="spacing">Density</text>
<rect x="404.3" y="22.6" width="164.5" height="124" rx="2.6" ry="2.6" fill="#fff" fill-opacity="0.8" stroke="#cccccc" stroke-opacity="0.8" stroke-width="1.1"/>
<line x1="407.8" y1="39.1" x2="432.2" y2="39.1" stroke="#ff0000" stroke-width="1.7"/>
<line x1="407.8" y1="68.6" x2="432.2" y2="68.6" stroke="#0000ff" stroke-width="1.7"/>
<line x1="407.8" y1="98.1" x2="432.2" y2="98.1" stroke="#000" stroke-width="1.9" stroke-dasharray="1.6 2.14"/>
<line x1="407.8" y1="119.8" x2="432.2" y2="119.8" stroke="#000" stroke-width="1.7"/>
<line x1="407.8" y1="136.4" x2="432.2" y2="136.4" stroke="#000" stroke-width="1.7" stroke-dasharray="6.3 2.3"/>
<text x="440.2" y="35.5" font-size="11.8" textLength="97.2" lengthAdjust="spacing">ODs w/ increased</text>
<text x="443.7" y="47.9" font-size="11.8" textLength="104.8" lengthAdjust="spacing">traffic flow in 2020</text>
<text x="440.2" y="64.8" font-size="11.8" textLength="101.0" lengthAdjust="spacing">ODs w/ decreased</text>
<text x="443.7" y="77.2" font-size="11.8" textLength="104.8" lengthAdjust="spacing">traffic flow in 2020</text>
<text x="440.2" y="94.1" font-size="11.8" textLength="118.7" lengthAdjust="spacing">80K (38th percentile)</text>
<text x="443.7" y="106.7" font-size="11.8" textLength="26.5" lengthAdjust="spacing">level</text>
<text x="440.2" y="123.3" font-size="11.8" textLength="40.6" lengthAdjust="spacing">Median</text>
<text x="440.2" y="139.9" font-size="11.8" textLength="30.4" lengthAdjust="spacing">Mean</text>
<path d="M134.5,160.2 L172.2,217.4 M171.4,210.2 L172.2,217.4 L165.9,213.8" fill="none" stroke="#ff0000" stroke-width="2.1" stroke-linecap="round" stroke-linejoin="round"/>
<path d="M115.0,222.6 L171.0,259.3 M167.4,253.0 L171.0,259.3 L163.8,258.5" fill="none" stroke="#0000ff" stroke-width="2.1" stroke-linecap="round" stroke-linejoin="round"/>
<rect x="111" y="138.8" width="37.2" height="19.2" rx="2.4" ry="2.4" fill="#ffb2b2" stroke="#000" stroke-opacity="0.42" stroke-width="1.1"/>
<text x="129.7" y="153.4" font-size="15.3" text-anchor="middle" textLength="31.0" lengthAdjust="spacing">0.15</text>
<rect x="81.7" y="201.8" width="37.3" height="19.6" rx="2.4" ry="2.4" fill="#b2b2ff" stroke="#000" stroke-opacity="0.42" stroke-width="1.1"/>
<text x="100.4" y="216.5" font-size="15.3" text-anchor="middle" textLength="31.0" lengthAdjust="spacing">0.03</text>
</svg>
</body></html>
